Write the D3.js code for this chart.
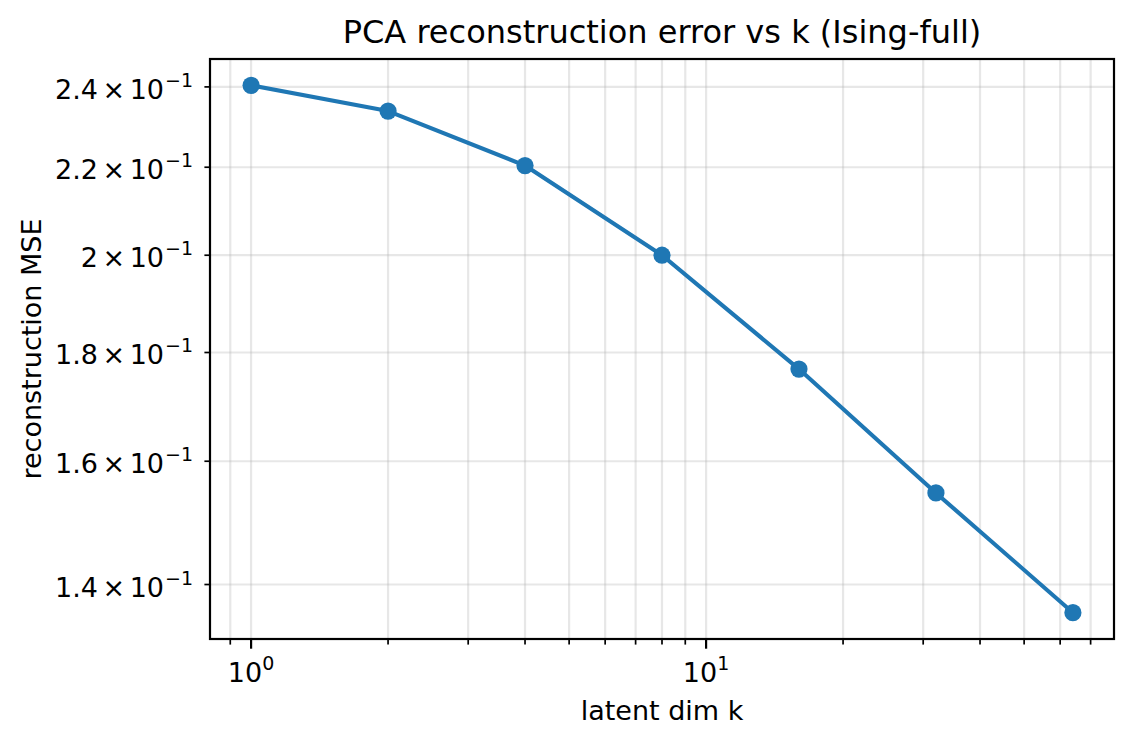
<!DOCTYPE html>
<html>
<head>
<meta charset="utf-8">
<script src="https://cdn.jsdelivr.net/npm/d3@7"></script>
<style>
  html, body { margin: 0; padding: 0; background: #fff; }
  svg { display: block; font-family: "DejaVu Sans", sans-serif; }
</style>
</head>
<body>
<svg id="chart" width="1133" height="746"></svg>
<script>
// ---- data ----
const kValues = [1, 2, 4, 8, 16, 32, 64];
const mseValues = [0.2404, 0.2338, 0.2204, 0.2000, 0.1768, 0.1546, 0.1358];
const yTickValues = [0.14, 0.16, 0.18, 0.20, 0.22, 0.24];
const yTickMantissas = ["1.4", "1.6", "1.8", "2", "2.2", "2.4"];
const xMajorTicks = [1, 10];
const xMajorExponents = ["0", "1"];
const xMinorTicks = [0.9, 2, 3, 4, 5, 6, 7, 8, 9, 20, 30, 40, 50, 60, 70, 80, 90];
const titleText = "PCA reconstruction error vs k (Ising-full)";
const xLabelText = "latent dim k";
const yLabelText = "reconstruction MSE";

// ---- layout ----
const W = 1133, H = 746;
const plot = { left: 210, right: 1114, top: 59, bottom: 639 };
const svg = d3.select("#chart");

function logMargin(ext, frac) {
  const a = Math.log10(ext[0]), b = Math.log10(ext[1]);
  const m = (b - a) * frac;
  return [Math.pow(10, a - m), Math.pow(10, b + m)];
}

const x = d3.scaleLog().domain(logMargin(d3.extent(kValues), 0.05)).range([plot.left, plot.right]);
const y = d3.scaleLog().domain(logMargin(d3.extent(mseValues), 0.05)).range([plot.bottom, plot.top]);

const xMinorVisible = xMinorTicks.filter(v => v >= x.domain()[0] && v <= x.domain()[1]);

// grid
const grid = svg.append("g").attr("stroke", "#b0b0b0").attr("stroke-opacity", 0.3).attr("stroke-width", 2.2);
grid.selectAll("line.gx").data(xMajorTicks.concat(xMinorVisible)).join("line")
  .attr("x1", d => x(d)).attr("x2", d => x(d))
  .attr("y1", plot.top).attr("y2", plot.bottom);
grid.selectAll("line.gy").data(yTickValues).join("line")
  .attr("x1", plot.left).attr("x2", plot.right)
  .attr("y1", d => y(d)).attr("y2", d => y(d));

const pts = kValues.map((k, i) => ({ k, v: mseValues[i] }));
const line = d3.line().x(d => x(d.k)).y(d => y(d.v));
svg.append("path").datum(pts)
  .attr("d", line).attr("fill", "none")
  .attr("stroke", "#1f77b4").attr("stroke-width", 4.1)
  .attr("stroke-linejoin", "round").attr("stroke-linecap", "square");
svg.append("g").selectAll("circle").data(pts).join("circle")
  .attr("cx", d => x(d.k)).attr("cy", d => y(d.v)).attr("r", 8.6)
  .attr("fill", "#1f77b4");

// spines
svg.append("rect")
  .attr("x", plot.left).attr("y", plot.top)
  .attr("width", plot.right - plot.left).attr("height", plot.bottom - plot.top)
  .attr("fill", "none").attr("stroke", "#000").attr("stroke-width", 2.2);

// x ticks
const xt = svg.append("g").attr("stroke", "#000");
xt.selectAll("line.maj").data(xMajorTicks).join("line")
  .attr("x1", d => x(d)).attr("x2", d => x(d))
  .attr("y1", plot.bottom).attr("y2", plot.bottom + 9.7).attr("stroke-width", 2.2);
xt.selectAll("line.min").data(xMinorVisible).join("line")
  .attr("x1", d => x(d)).attr("x2", d => x(d))
  .attr("y1", plot.bottom).attr("y2", plot.bottom + 5.6).attr("stroke-width", 1.7);

const xl = svg.append("g").selectAll("text").data(xMajorTicks).join("text")
  .attr("x", d => x(d)).attr("y", 682)
  .attr("text-anchor", "middle").attr("font-size", 27).attr("fill", "#000");
xl.append("tspan").text("10");
xl.append("tspan").attr("dy", -12).attr("font-size", 19).text((d, i) => xMajorExponents[i]);

// y ticks (minor-style)
svg.append("g").selectAll("line").data(yTickValues).join("line")
  .attr("x1", plot.left - 5.6).attr("x2", plot.left)
  .attr("y1", d => y(d)).attr("y2", d => y(d))
  .attr("stroke", "#000").attr("stroke-width", 1.7);

const yl = svg.append("g").selectAll("text").data(yTickValues).join("text")
  .attr("x", 193).attr("y", d => y(d) + 12)
  .attr("text-anchor", "end").attr("font-size", 27).attr("fill", "#000");
yl.append("tspan").text((d, i) => yTickMantissas[i]);
yl.append("tspan").attr("dx", 4.5).text("\u00d7");
yl.append("tspan").attr("dx", 4.5).text("10");
yl.append("tspan").attr("dx", 1).attr("dy", -12).attr("font-size", 19).text("\u22121");

// labels
svg.append("text").attr("x", (plot.left + plot.right) / 2).attr("y", 43)
  .attr("text-anchor", "middle").attr("font-size", 32).attr("fill", "#000").text(titleText);
svg.append("text").attr("x", (plot.left + plot.right) / 2).attr("y", 720)
  .attr("text-anchor", "middle").attr("font-size", 27).attr("fill", "#000").text(xLabelText);
svg.append("text")
  .attr("transform", `translate(41,${(plot.top + plot.bottom) / 2}) rotate(-90)`)
  .attr("text-anchor", "middle").attr("font-size", 27).attr("fill", "#000").text(yLabelText);
</script>
</body>
</html>
